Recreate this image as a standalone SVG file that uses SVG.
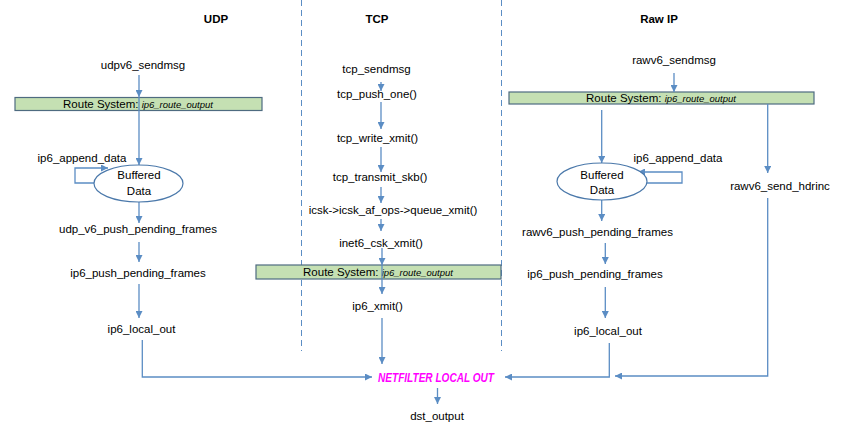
<svg xmlns="http://www.w3.org/2000/svg" width="848" height="429" viewBox="0 0 848 429">
<defs>
<marker id="ah" viewBox="0 0 8 8" refX="8" refY="4" markerWidth="7" markerHeight="7" markerUnits="userSpaceOnUse" orient="auto">
<path d="M0,0 L8,4 L0,8 z" fill="#5B8DC4"/>
</marker>
<style>
text{font-family:"Liberation Sans",Arial,sans-serif;font-size:11.5px;fill:#000;text-anchor:middle}
.h{font-weight:bold;font-size:11.5px}
.it{font-style:italic;font-size:9.5px}
.nf{font-weight:bold;font-style:italic;fill:#FF00FF;font-size:12.5px}
.bar{fill:#C5E0B3;stroke:#4E6B80;stroke-width:1.2}
.ell{fill:#fff;stroke:#4A78AA;stroke-width:1.2}
.c{fill:none;stroke:#5B8DC4;stroke-width:1.3}
.a{marker-end:url(#ah)}
.sep{stroke:#5B8DC4;stroke-width:1;stroke-dasharray:6,4}
</style>
</defs>
<rect width="848" height="429" fill="#fff"/>

<g id="separators">
<line class="sep" x1="301.5" y1="0" x2="301.5" y2="351"/>
<line class="sep" x1="501.5" y1="0" x2="501.5" y2="351"/>
</g>

<g id="headers">
<text class="h" x="216" y="23">UDP</text>
<text class="h" x="377" y="23">TCP</text>
<text class="h" x="659" y="23">Raw IP</text>
</g>

<g id="bars">
<g id="route-udp"><rect class="bar" x="15" y="97.5" width="247" height="13"/><text x="138" y="108">Route System: <tspan class="it">ip6_route_output</tspan></text></g>
<g id="route-tcp"><rect class="bar" x="256" y="265" width="245" height="14"/><text x="378" y="276">Route System: <tspan class="it">ip6_route_output</tspan></text></g>
<g id="route-raw"><rect class="bar" x="509" y="92" width="305" height="12"/><text x="661" y="102">Route System: <tspan class="it">ip6_route_output</tspan></text></g>
</g>

<g id="connectors">
<!-- UDP -->
<path class="c a" d="M139,75 V97"/>
<path class="c a" d="M139,97 V165"/>
<path class="c a" d="M94,183 H75 V168 H108"/>
<path class="c a" d="M139,202 V223"/>
<path class="c a" d="M139,242 V262"/>
<path class="c a" d="M139,284 V318"/>
<path class="c a" d="M142.3,340 V377 H372"/>
<!-- TCP -->
<path class="c a" d="M381,82 V91"/>
<path class="c a" d="M381,102 V129"/>
<path class="c a" d="M381,147 V172"/>
<path class="c a" d="M381,187 V203"/>
<path class="c a" d="M381,219 V231"/>
<path class="c a" d="M382,248 V265"/>
<path class="c a" d="M382,265 V294"/>
<path class="c a" d="M382,318 V364"/>
<path class="c a" d="M437.5,388 V404"/>
<!-- Raw -->
<path class="c a" d="M674,73 V92"/>
<path class="c a" d="M601.7,110 V163"/>
<path class="c a" d="M767.7,104 V173"/>
<path class="c a" d="M647,183 H682 V172 H638"/>
<path class="c a" d="M601.7,200 V221"/>
<path class="c a" d="M605.3,243 V264"/>
<path class="c a" d="M605.3,287 V318"/>
<path class="c a" d="M609.3,343 V377 H505"/>
<path class="c a" d="M767.7,198 V376 H615"/>
</g>

<g id="udp-nodes">
<g id="udpv6_sendmsg"><text x="143" y="69">udpv6_sendmsg</text></g>
<g id="udp_ip6_append_data"><text x="82" y="162">ip6_append_data</text></g>
<g id="udp_buffered"><ellipse class="ell" cx="138.5" cy="183.5" rx="44.5" ry="18.5"/><text x="139" y="179">Buffered</text><text x="139" y="195">Data</text></g>
<g id="udp_v6_push_pending_frames"><text x="138" y="233">udp_v6_push_pending_frames</text></g>
<g id="udp_ip6_push_pending_frames"><text x="138" y="277">ip6_push_pending_frames</text></g>
<g id="udp_ip6_local_out"><text x="141.5" y="333">ip6_local_out</text></g>
</g>

<g id="tcp-nodes">
<g id="tcp_sendmsg"><text x="376.5" y="73">tcp_sendmsg</text></g>
<g id="tcp_push_one"><text x="377" y="98">tcp_push_one()</text></g>
<g id="tcp_write_xmit"><text x="377.5" y="142">tcp_write_xmit()</text></g>
<g id="tcp_transmit_skb"><text x="380" y="181">tcp_transmit_skb()</text></g>
<g id="queue_xmit"><text x="393" y="214">icsk-&gt;icsk_af_ops-&gt;queue_xmit()</text></g>
<g id="inet6_csk_xmit"><text x="381" y="247">inet6_csk_xmit()</text></g>
<g id="ip6_xmit"><text x="377.5" y="310">ip6_xmit()</text></g>
</g>

<g id="raw-nodes">
<g id="rawv6_sendmsg"><text x="674" y="64">rawv6_sendmsg</text></g>
<g id="raw_ip6_append_data"><text x="678" y="162">ip6_append_data</text></g>
<g id="raw_buffered"><ellipse class="ell" cx="602" cy="181.5" rx="45" ry="18.5"/><text x="602" y="179">Buffered</text><text x="602" y="194">Data</text></g>
<g id="rawv6_send_hdrinc"><text x="780" y="190">rawv6_send_hdrinc</text></g>
<g id="rawv6_push_pending_frames"><text x="597.5" y="236">rawv6_push_pending_frames</text></g>
<g id="raw_ip6_push_pending_frames"><text x="595" y="278">ip6_push_pending_frames</text></g>
<g id="raw_ip6_local_out"><text x="608" y="335">ip6_local_out</text></g>
</g>

<g id="common-nodes">
<g id="netfilter"><text class="nf" x="436" y="381.5" textLength="116" lengthAdjust="spacingAndGlyphs">NETFILTER LOCAL OUT</text></g>
<g id="dst_output"><text x="437" y="420">dst_output</text></g>
</g>
</svg>
